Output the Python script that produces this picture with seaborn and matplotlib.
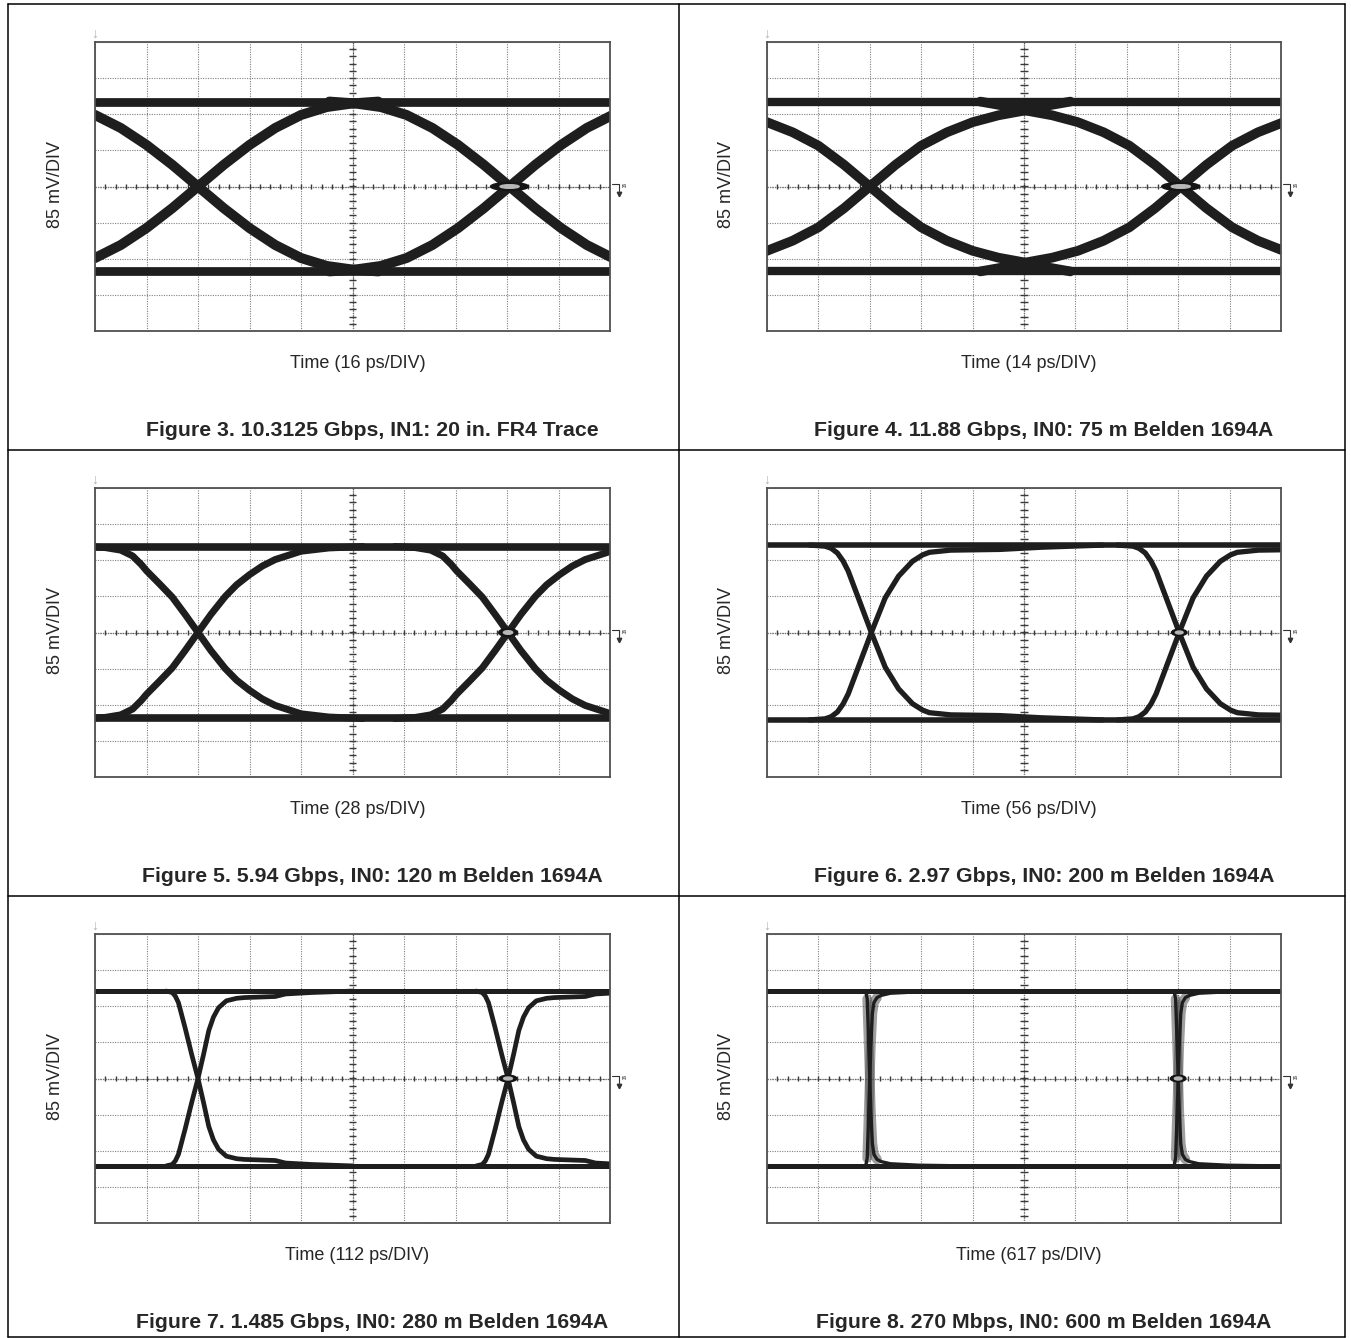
import numpy as np
import seaborn as sns
from matplotlib import pyplot as plt
from matplotlib.lines import Line2D
from matplotlib.patches import Ellipse

FIG_W, FIG_H = 1351, 1338

Y_LABEL = '85 mV/DIV'
TIME_LABELS = [
    'Time (16 ps/DIV)',
    'Time (14 ps/DIV)',
    'Time (28 ps/DIV)',
    'Time (56 ps/DIV)',
    'Time (112 ps/DIV)',
    'Time (617 ps/DIV)',
]
CAPTIONS = [
    'Figure 3. 10.3125 Gbps, IN1: 20 in. FR4 Trace',
    'Figure 4. 11.88 Gbps, IN0: 75 m Belden 1694A',
    'Figure 5. 5.94 Gbps, IN0: 120 m Belden 1694A',
    'Figure 6. 2.97 Gbps, IN0: 200 m Belden 1694A',
    'Figure 7. 1.485 Gbps, IN0: 280 m Belden 1694A',
    'Figure 8. 270 Mbps, IN0: 600 m Belden 1694A',
]

# settled high / low level of each eye, in divisions from centre
LEVELS = [2.35, 2.35, 2.38, 2.42, 2.42, 2.42]

# crossing points, divisions from the left edge of the screen
CROSSINGS = [
    [2.0, 8.05],
    [2.0, 8.05],
    [2.0, 8.02],
    [2.03, 8.02],
    [2.0, 8.02],
    [2.0, 8.0],
]

# rising edge: time from crossing (div), level (div)
FIG3_T = [-3.5, -3.0, -2.5, -2.0, -1.5, -1.0, -0.5, 0.0, 0.5, 1.0, 1.5, 2.0, 2.5, 3.0, 3.5]
FIG3_V = [-2.35, -2.3, -2.2, -1.98, -1.62, -1.15, -0.6, 0.0, 0.6, 1.15, 1.62, 1.98, 2.2, 2.3, 2.35]

FIG4_T = [-3.9, -3.5, -3.0, -2.5, -2.0, -1.5, -1.0, -0.5, 0.0, 0.5, 1.0, 1.5, 2.0, 2.5, 3.0, 3.5, 3.9]
FIG4_V = [-2.35, -2.25, -2.1, -1.97, -1.78, -1.5, -1.13, -0.6, 0.0, 0.6, 1.13, 1.5, 1.78, 1.97, 2.1, 2.25, 2.35]

FIG5_T = [-2.2, -1.8, -1.5, -1.27, -1.1, -1.0, -0.75, -0.5, -0.25, 0.0, 0.25, 0.53, 0.75,
          1.0, 1.25, 1.5, 2.0, 2.54, 3.2]
FIG5_V = [-2.38, -2.35, -2.28, -2.12, -1.88, -1.71, -1.35, -0.98, -0.5, 0.0, 0.5, 1.0, 1.32,
          1.6, 1.84, 2.02, 2.25, 2.34, 2.38]

FIG6_T = [-1.2, -0.9, -0.78, -0.66, -0.55, -0.45, -0.27, 0.0, 0.27, 0.53, 0.8, 1.0, 1.13,
          1.54, 2.5, 3.3, 4.5]
FIG6_V = [-2.42, -2.39, -2.33, -2.2, -1.98, -1.7, -1.02, 0.0, 0.96, 1.56, 1.97, 2.15, 2.22,
          2.28, 2.3, 2.36, 2.42]

FIG7_T = [-0.62, -0.5, -0.44, -0.38, -0.25, -0.12, 0.0, 0.11, 0.21, 0.3, 0.4, 0.55, 0.75,
          0.9, 1.5, 1.7, 2.2, 3.0]
FIG7_V = [-2.42, -2.38, -2.28, -2.1, -1.4, -0.65, 0.0, 0.68, 1.33, 1.7, 1.96, 2.15, 2.22,
          2.24, 2.27, 2.34, 2.38, 2.42]

FIG8_T = [-0.08, -0.05, -0.02, 0.0, 0.02, 0.05, 0.08, 0.14, 0.22, 0.4, 0.95, 1.9]
FIG8_V = [-2.42, -2.2, -0.9, 0.0, 0.9, 1.8, 2.1, 2.24, 2.3, 2.36, 2.4, 2.42]

EDGES = [(FIG3_T, FIG3_V), (FIG4_T, FIG4_V), (FIG5_T, FIG5_V),
         (FIG6_T, FIG6_V), (FIG7_T, FIG7_V), (FIG8_T, FIG8_V)]

# drawing style per panel: flat lw, edge lw, blob width, blob height
STYLE = [
    (6.3, 7.2, 0.74, 0.22),
    (6.0, 7.0, 0.74, 0.22),
    (5.5, 5.0, 0.36, 0.22),
    (4.0, 3.8, 0.30, 0.18),
    (3.6, 3.4, 0.34, 0.18),
    (3.6, 2.4, 0.30, 0.18),
]

COL_X = [(95, 610), (767, 1281)]
ROW_Y = [(42, 331), (488, 777), (934, 1223)]
TRACE = '#1e1e1e'


def fig_rect(x0, y0, x1, y1):
    return [x0 / FIG_W, 1 - y1 / FIG_H, (x1 - x0) / FIG_W, (y1 - y0) / FIG_H]


def fx(x):
    return x / FIG_W


def fy(y):
    return 1 - y / FIG_H


def draw_screen(ax, idx):
    level = LEVELS[idx]
    t, v = EDGES[idx]
    lw_flat, lw_edge, bw, bh = STYLE[idx]

    ax.set_xlim(0, 10)
    ax.set_ylim(-4, 4)
    ax.set_xticks(range(0, 11))
    ax.set_yticks(range(-4, 5))
    ax.tick_params(length=0, labelbottom=False, labelleft=False)
    ax.grid(True, color='#808080', lw=0.8, ls=(0, (1, 1.2)), zorder=0)
    ax.set_axisbelow(True)
    for sp in ax.spines.values():
        sp.set_color('#505050')
        sp.set_linewidth(1.3)
        sp.set_zorder(5)

    # centre graticule with minor ticks
    ax.axhline(0, color='#555555', lw=0.9, ls=(0, (1, 1)), zorder=0.5)
    ax.axvline(5, color='#555555', lw=0.9, ls=(0, (1, 1)), zorder=0.5)
    mx = np.arange(0.2, 10, 0.2)
    ax.vlines(mx, -0.08, 0.08, color='#3a3a3a', lw=1.0, zorder=0.6)
    my = np.arange(-3.8, 4, 0.2)
    ax.hlines(my, 4.93, 5.07, color='#3a3a3a', lw=1.0, zorder=0.6)

    # settled levels
    for lv in (level, -level):
        sns.lineplot(x=[0, 10], y=[lv, lv], ax=ax, color=TRACE, lw=lw_flat,
                     estimator=None, sort=False, legend=False, zorder=2)

    # rising and falling edges at each crossing
    for c in CROSSINGS[idx]:
        xs = [c + ti for ti in t]
        for sign in (1, -1):
            ys = [sign * vi for vi in v]
            if idx == 5:
                # scattered samples on the fast edge
                core = [k for k, vi in enumerate(v) if abs(vi) < level - 0.15]
                sns.lineplot(x=[xs[k] for k in core], y=[ys[k] for k in core], ax=ax,
                             color='#505050', lw=7.0, alpha=0.55, estimator=None,
                             sort=False, legend=False, zorder=1.8,
                             solid_capstyle='round')
            sns.lineplot(x=xs, y=ys, ax=ax, color=TRACE, lw=lw_edge,
                         estimator=None, sort=False, legend=False, zorder=2,
                         solid_joinstyle='round', solid_capstyle='round')

    # trigger blob at the right crossing
    c2 = CROSSINGS[idx][1]
    ax.add_patch(Ellipse((c2, 0), bw, bh, color='#151515', zorder=3))
    ax.add_patch(Ellipse((c2, 0), bw * 0.5, bh * 0.45, color='#b8b8b8', zorder=3.1))

    # reference marker on the right edge
    ax.plot([10.04, 10.17, 10.17], [0.06, 0.06, -0.12], color='#333333', lw=0.8,
            clip_on=False, zorder=4)
    ax.plot([10.17], [-0.2], marker='v', ms=3.2, color='#333333', clip_on=False, zorder=4)
    ax.text(10.23, 0.0, 'f4', fontsize=4.5, color='#333333', va='center', ha='left')


def main():
    sns.set_style('white')
    plt.rcParams['font.family'] = ['Liberation Sans', 'DejaVu Sans']

    fig = plt.figure(figsize=(FIG_W / 100, FIG_H / 100), dpi=100)
    fig.patch.set_facecolor('white')

    for idx in range(6):
        row, col = divmod(idx, 2)
        x0, x1 = COL_X[col]
        y0, y1 = ROW_Y[row]
        ax = fig.add_axes(fig_rect(x0, y0, x1, y1))
        draw_screen(ax, idx)

        fig.text(fx(x0 - 40), fy((y0 + y1) / 2 - 2), Y_LABEL, rotation=90,
                 ha='center', va='center', fontsize=13)
        fig.text(fx((x0 + x1) / 2 + 5), fy(y1 + 32), TIME_LABELS[idx],
                 ha='center', va='center', fontsize=13)
        fig.text(fx((x0 + x1) / 2 + 20), fy(y1 + 99), CAPTIONS[idx],
                 ha='center', va='center', fontsize=15.3, fontweight='bold')
        fig.text(fx(x0), fy(y0 - 8), '\u2193', ha='center', va='center',
                 fontsize=10, color='#b0b0b0')

    # table rules
    table = dict(color='black', lw=1.1, transform=fig.transFigure)
    for y in (4, 450, 896, 1337):
        fig.add_artist(Line2D([fx(8), fx(1345)], [fy(y), fy(y)], **table))
    for x in (8, 679, 1345):
        fig.add_artist(Line2D([fx(x), fx(x)], [fy(4), fy(1337)], **table))

    fig.savefig('out.png', dpi=100)


if __name__ == '__main__':
    main()
